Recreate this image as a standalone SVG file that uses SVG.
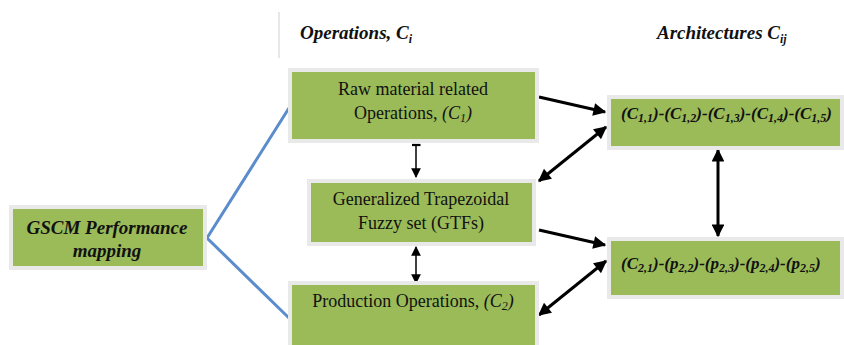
<svg xmlns="http://www.w3.org/2000/svg" width="844" height="345" viewBox="0 0 844 345">
<style>
.box{fill:#9bbb59;stroke:#e9e9e9;stroke-width:4}
.t{font-family:'Liberation Serif','Times New Roman','DejaVu Serif',serif;font-size:18px;fill:#111}
.bi{font-family:'Liberation Serif','Times New Roman','DejaVu Serif',serif;font-size:17px;font-weight:bold;font-style:italic;fill:#111}
.big{font-size:19px}
.it{font-style:italic}
.sub{font-size:12px}
.c{stroke:#000;stroke-width:3;fill:none}
.cs{stroke:#000;stroke-width:1.5;fill:none}
</style>
<defs>
<marker id="ah" viewBox="0 0 10 10" refX="9" refY="5" markerWidth="5" markerHeight="4.3" orient="auto-start-reverse" markerUnits="strokeWidth"><path d="M0,0 L10,5 L0,10 z" fill="#000"/></marker>
<marker id="as" viewBox="0 0 10 10" refX="9" refY="5" markerWidth="6.5" markerHeight="6.5" orient="auto-start-reverse" markerUnits="strokeWidth"><path d="M0,0 L10,5 L0,10 z" fill="#000"/></marker>
<marker id="bar" viewBox="0 0 10 10" refX="5" refY="5" markerWidth="6" markerHeight="6" orient="auto" markerUnits="strokeWidth"><path d="M5,0 L5,10" stroke="#000" stroke-width="2.5"/></marker>
</defs>
<line x1="279" y1="12" x2="279" y2="58" stroke="#cfcfcf" stroke-width="1"/>
<text class="bi big" x="300" y="39">Operations, C<tspan class="sub" dy="4">i</tspan></text>
<text class="bi big" x="657" y="39">Architectures C<tspan class="sub" dy="4">ij</tspan></text>
<g id="connectors">
<polyline points="289,108 207,238 289,318" stroke="#5b8ccc" stroke-width="3" fill="none"/>
<line class="c" x1="539" y1="97" x2="605" y2="112" marker-end="url(#ah)"/>
<line class="c" x1="606" y1="127" x2="539" y2="181" marker-start="url(#ah)" marker-end="url(#ah)"/>
<line class="c" x1="539" y1="230" x2="605" y2="245" marker-end="url(#ah)"/>
<line class="c" x1="606" y1="261" x2="539" y2="315" marker-start="url(#ah)" marker-end="url(#ah)"/>
<line class="c" x1="718" y1="150" x2="718" y2="236" marker-start="url(#ah)" marker-end="url(#ah)"/>
<line class="cs" x1="416" y1="145" x2="416" y2="177" marker-start="url(#bar)" marker-end="url(#as)"/>
<line class="cs" x1="416" y1="247" x2="416" y2="283" marker-start="url(#as)" marker-end="url(#as)"/>
</g>
<g id="gscm">
<rect class="box" x="11" y="207" width="194" height="61"/>
<text class="bi big" x="107" y="234" text-anchor="middle">GSCM Performance</text>
<text class="bi big" x="107" y="257" text-anchor="middle">mapping</text>
</g>
<g id="raw">
<rect class="box" x="290" y="70" width="247" height="71"/>
<text class="t" x="413" y="95" text-anchor="middle">Raw material related</text>
<text class="t" x="413" y="119" text-anchor="middle">Operations, <tspan class="it">(C<tspan class="sub" dy="3">1</tspan><tspan dy="-3">)</tspan></tspan></text>
</g>
<g id="gtf">
<rect class="box" x="309" y="181" width="225" height="63"/>
<text class="t" x="421" y="205" text-anchor="middle">Generalized Trapezoidal</text>
<text class="t" x="421" y="229" text-anchor="middle">Fuzzy set (GTFs)</text>
</g>
<g id="production">
<rect class="box" x="290" y="283" width="247" height="70"/>
<text class="t" x="413" y="307" text-anchor="middle">Production Operations, <tspan class="it">(C<tspan class="sub" dy="3">2</tspan><tspan dy="-3">)</tspan></tspan></text>
</g>
<g id="arch1">
<rect class="box" x="609" y="97" width="233" height="51"/>
<text class="bi" x="621" y="119">(C<tspan class="sub" dy="3">1,1</tspan><tspan dy="-3">)-(C</tspan><tspan class="sub" dy="3">1,2</tspan><tspan dy="-3">)-(C</tspan><tspan class="sub" dy="3">1,3</tspan><tspan dy="-3">)-(C</tspan><tspan class="sub" dy="3">1,4</tspan><tspan dy="-3">)-(C</tspan><tspan class="sub" dy="3">1,5</tspan><tspan dy="-3">)</tspan></text>
</g>
<g id="arch2">
<rect class="box" x="609" y="239" width="233" height="58"/>
<text class="bi" x="621" y="269">(C<tspan class="sub" dy="3">2,1</tspan><tspan dy="-3">)-(p</tspan><tspan class="sub" dy="3">2,2</tspan><tspan dy="-3">)-(p</tspan><tspan class="sub" dy="3">2,3</tspan><tspan dy="-3">)-(p</tspan><tspan class="sub" dy="3">2,4</tspan><tspan dy="-3">)-(p</tspan><tspan class="sub" dy="3">2,5</tspan><tspan dy="-3">)</tspan></text>
</g>
</svg>
